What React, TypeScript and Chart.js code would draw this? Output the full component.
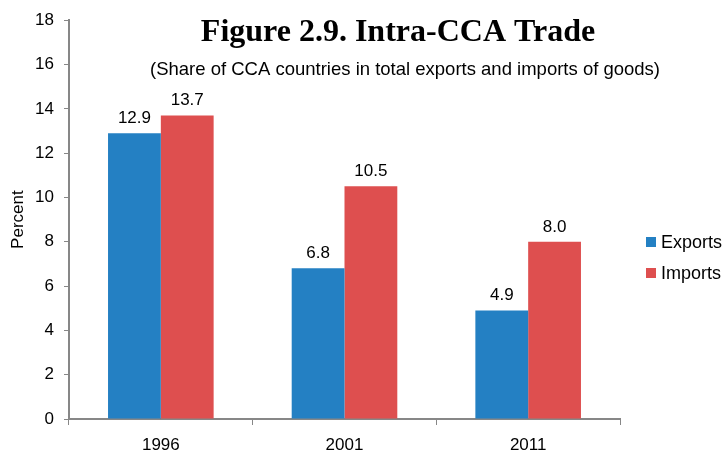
import React, { useEffect, useRef } from "react";
import { Chart, registerables } from "chart.js";

Chart.register(...registerables);

const categories = ["1996", "2001", "2011"];
const exportsValues = [12.9, 6.8, 4.9];
const importsValues = [13.7, 10.5, 8.0];
const seriesNames = ["Exports", "Imports"];
const seriesColors = ["#2480c3", "#de4f4f"];
const yTicks = [0, 2, 4, 6, 8, 10, 12, 14, 16, 18];
const titleText = "Figure 2.9. Intra-CCA Trade";
const subtitleText = "(Share of CCA countries in total exports and imports of goods)";
const yAxisTitle = "Percent";

const SANS = "Arial, 'Liberation Sans', sans-serif";
const SERIF = "Garamond, 'Liberation Serif', serif";
const AXIS = "#878787";

const overlayPlugin = {
  id: "overlay",
  afterDatasetsDraw(chart: any) {
    const ctx = chart.ctx;
    ctx.save();
    // data labels
    ctx.fillStyle = "#000";
    ctx.font = `17px ${SANS}`;
    ctx.textAlign = "center";
    ctx.textBaseline = "alphabetic";
    chart.data.datasets.forEach((ds: any, i: number) => {
      const meta = chart.getDatasetMeta(i);
      meta.data.forEach((bar: any, j: number) => {
        ctx.fillText(Number(ds.data[j]).toFixed(1), bar.x, bar.y - 10);
      });
    });
    // title
    ctx.font = `bold 32px ${SERIF}`;
    ctx.fillText(titleText, 398, 41);
    ctx.font = `18.5px ${SANS}`;
    ctx.textBaseline = "middle";
    ctx.fillText(subtitleText, 405, 70);
    // legend
    ctx.textAlign = "left";
    ctx.font = `18px ${SANS}`;
    const ys = [242, 273];
    seriesNames.forEach((name, i) => {
      ctx.fillStyle = seriesColors[i];
      ctx.fillRect(646, ys[i] - 5, 10, 10);
      ctx.fillStyle = "#000";
      ctx.fillText(name, 661, ys[i] + 1);
    });
    ctx.restore();
  },
};

export default function App() {
  const ref = useRef<HTMLCanvasElement>(null);
  useEffect(() => {
    document.body.style.margin = "0";
    const chart = new Chart(ref.current!, {
      type: "bar",
      data: {
        labels: categories,
        datasets: [
          {
            label: seriesNames[0],
            data: exportsValues,
            backgroundColor: seriesColors[0],
            categoryPercentage: 0.575,
            barPercentage: 1.0,
          },
          {
            label: seriesNames[1],
            data: importsValues,
            backgroundColor: seriesColors[1],
            categoryPercentage: 0.575,
            barPercentage: 1.0,
          },
        ],
      },
      options: {
        animation: false,
        responsive: false,
        layout: { padding: { top: 19, right: 106, left: 0, bottom: 0 } },
        plugins: {
          legend: { display: false },
          tooltip: { enabled: false },
          title: { display: false },
        },
        scales: {
          x: {
            grid: {
              display: true,
              offset: true,
              drawOnChartArea: false,
              drawTicks: true,
              tickLength: 6,
              color: AXIS,
            },
            border: { color: AXIS, width: 2 },
            ticks: {
              color: "#000",
              font: { family: SANS, size: 17 },
              padding: 10,
            },
            afterFit: (s: any) => {
              s.height = 451 - 419;
            },
          },
          y: {
            min: 0,
            max: 18,
            afterBuildTicks: (s: any) => {
              s.ticks = yTicks.map((v) => ({ value: v }));
            },
            grid: {
              display: true,
              drawOnChartArea: false,
              drawTicks: true,
              tickLength: 5,
              color: AXIS,
            },
            border: { color: AXIS, width: 2 },
            ticks: {
              color: "#000",
              font: { family: SANS, size: 17 },
              padding: 10,
            },
            title: {
              display: true,
              text: yAxisTitle,
              color: "#000",
              font: { family: SANS, size: 17 },
              padding: { top: 8, bottom: 0 },
            },
            afterFit: (s: any) => {
              s.width = 69;
            },
          },
        },
      },
      plugins: [overlayPlugin],
    });
    return () => chart.destroy();
  }, []);
  return (
    <div style={{ width: 726, height: 451 }}>
      <canvas ref={ref} width={726} height={451} style={{ display: "block" }} />
    </div>
  );
}
